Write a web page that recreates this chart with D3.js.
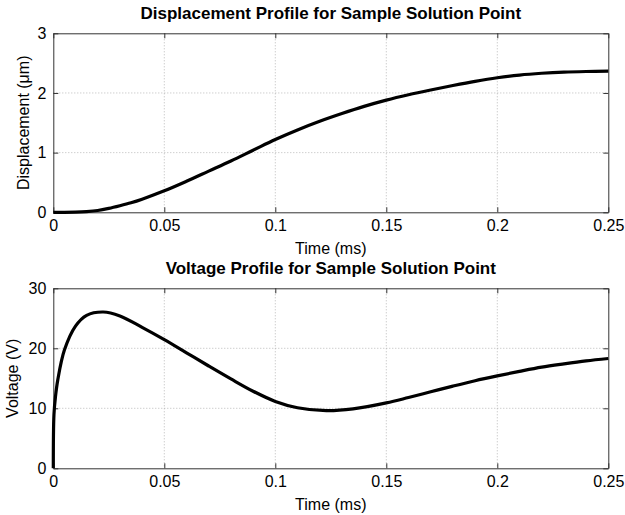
<!DOCTYPE html>
<html>
<head>
<meta charset="utf-8">
<script src="https://cdn.jsdelivr.net/npm/d3@7"></script>
<style>
  body { margin: 0; background: #fff; }
  text { font-family: "Liberation Sans", Arial, sans-serif; fill: #000; }
</style>
</head>
<body>
<div id="chart"></div>
<script>
// time in ms
const dispTime = [0, 0.005, 0.01, 0.015, 0.02, 0.025, 0.03, 0.035, 0.04, 0.05, 0.06, 0.07, 0.08, 0.09, 0.1,
  0.11, 0.12, 0.13, 0.14, 0.15, 0.16, 0.17, 0.18, 0.19, 0.2, 0.21, 0.22, 0.23, 0.24, 0.25];
const dispValues = [0, 0, 0.003, 0.012, 0.03, 0.065, 0.11, 0.16, 0.22, 0.36, 0.52, 0.69, 0.86, 1.04, 1.22,
  1.38, 1.525, 1.655, 1.775, 1.88, 1.97, 2.05, 2.125, 2.195, 2.255, 2.3, 2.33, 2.35, 2.36, 2.365];

const voltTime = [0, 0.0003, 0.001, 0.002, 0.005, 0.01, 0.015, 0.0225, 0.03, 0.04, 0.05, 0.06, 0.07,
  0.08, 0.09, 0.1, 0.11, 0.123, 0.135, 0.15, 0.16, 0.17, 0.18, 0.19, 0.2, 0.21, 0.22, 0.23, 0.24, 0.25];
const voltValues = [0, 9, 12, 14.7, 19.7, 23.7, 25.5, 26.05, 25.4, 23.5, 21.45, 19.25, 17.05,
  14.9, 12.85, 11.15, 10.1, 9.6, 9.9, 10.9, 11.8, 12.75, 13.7, 14.6, 15.4, 16.15, 16.85, 17.4, 17.9, 18.3];

const xTicks = [0, 0.05, 0.1, 0.15, 0.2, 0.25];
const xTickLabels = ["0", "0.05", "0.1", "0.15", "0.2", "0.25"];
const dispTicks = [0, 1, 2, 3];
const voltTicks = [0, 10, 20, 30];

const width = 625, height = 515;

const svg = d3.select("#chart").append("svg")
  .attr("width", width)
  .attr("height", height);

function drawPanel(opts) {
  const x = d3.scaleLinear().domain([0, 0.25]).range([opts.left, opts.right]);
  const y = d3.scaleLinear().domain(opts.yDomain).range([opts.bottom, opts.top]);
  const g = svg.append("g");

  // grid
  g.selectAll(".vgrid").data(xTicks.slice(1, -1)).enter().append("line")
    .attr("x1", d => x(d)).attr("x2", d => x(d))
    .attr("y1", opts.top).attr("y2", opts.bottom)
    .attr("stroke", "#aaa").attr("stroke-width", 0.8).attr("stroke-dasharray", "1,2");
  g.selectAll(".hgrid").data(opts.yTicks.slice(1, -1)).enter().append("line")
    .attr("x1", opts.left).attr("x2", opts.right)
    .attr("y1", d => y(d)).attr("y2", d => y(d))
    .attr("stroke", "#aaa").attr("stroke-width", 0.8).attr("stroke-dasharray", "1,2");

  // axes, ticks inside
  const fmt = d => xTickLabels[xTicks.indexOf(d)];
  const bottomAxis = g.append("g").attr("transform", `translate(0,${opts.bottom})`)
    .call(d3.axisBottom(x).tickValues(xTicks).tickFormat(fmt).tickSize(-5).tickSizeOuter(0).tickPadding(7));
  const topAxis = g.append("g").attr("transform", `translate(0,${opts.top})`)
    .call(d3.axisTop(x).tickValues(xTicks).tickFormat("").tickSize(-5).tickSizeOuter(0));
  const leftAxis = g.append("g").attr("transform", `translate(${opts.left},0)`)
    .call(d3.axisLeft(y).tickValues(opts.yTicks).tickFormat(d3.format("d")).tickSize(-5).tickSizeOuter(0).tickPadding(7));
  const rightAxis = g.append("g").attr("transform", `translate(${opts.right},0)`)
    .call(d3.axisRight(y).tickValues(opts.yTicks).tickFormat("").tickSize(-5).tickSizeOuter(0));

  [bottomAxis, topAxis, leftAxis, rightAxis].forEach(a => {
    a.selectAll("path, line").attr("stroke", "#333").attr("stroke-width", 1);
    a.selectAll("text").style("font-size", "16px").attr("fill", "#000");
  });

  // line
  const line = d3.line()
    .x((d, i) => x(opts.xs[i]))
    .y(d => y(d))
    .curve(d3.curveCatmullRom.alpha(0.5));
  g.append("path")
    .datum(opts.ys)
    .attr("fill", "none")
    .attr("stroke", "#000")
    .attr("stroke-width", 3.2)
    .attr("d", line);

  // title and labels
  g.append("text")
    .attr("x", (opts.left + opts.right) / 2)
    .attr("y", opts.top - 14)
    .attr("text-anchor", "middle")
    .style("font-size", "17px")
    .style("font-weight", "bold")
    .text(opts.title);

  g.append("text")
    .attr("x", (opts.left + opts.right) / 2)
    .attr("y", opts.bottom + 42)
    .attr("text-anchor", "middle")
    .style("font-size", "16px")
    .text("Time (ms)");

  g.append("text")
    .attr("transform", `translate(${opts.yLabelX},${(opts.top + opts.bottom) / 2}) rotate(-90)`)
    .attr("text-anchor", "middle")
    .style("font-size", "16px")
    .text(opts.yLabel);
}

drawPanel({
  left: 53.3, right: 608.3, top: 33.3, bottom: 212.3,
  yDomain: [0, 3], yTicks: dispTicks,
  xs: dispTime, ys: dispValues,
  title: "Displacement Profile for Sample Solution Point",
  yLabel: "Displacement (\u03bcm)", yLabelX: 29
});

drawPanel({
  left: 53.3, right: 608.3, top: 288.3, bottom: 468.3,
  yDomain: [0, 30], yTicks: voltTicks,
  xs: voltTime, ys: voltValues,
  title: "Voltage Profile for Sample Solution Point",
  yLabel: "Voltage (V)", yLabelX: 18
});
</script>
</body>
</html>
